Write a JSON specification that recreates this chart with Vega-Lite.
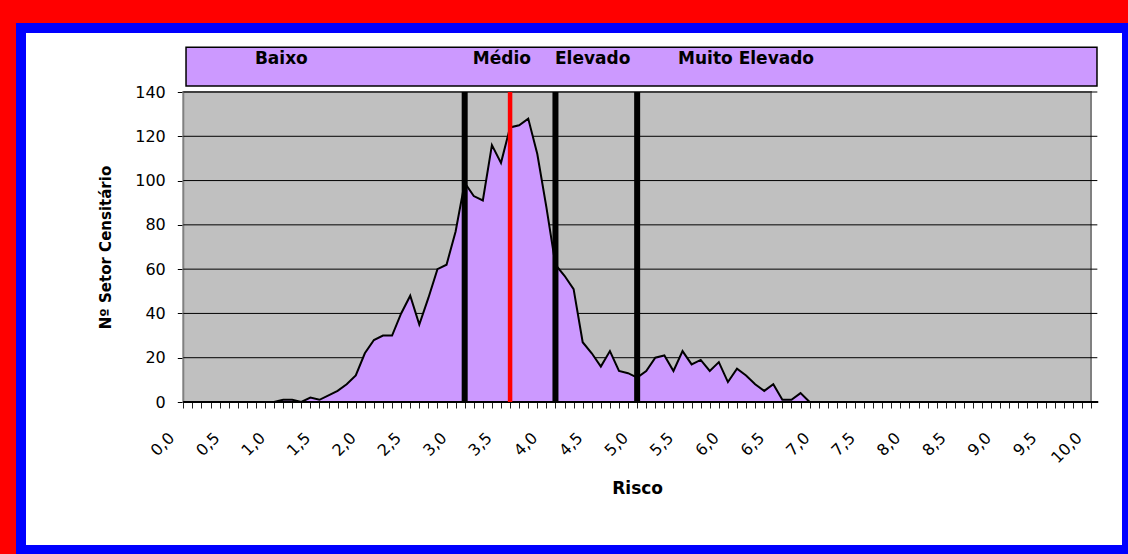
{
  "$schema": "https://vega.github.io/schema/vega-lite/v6.json",
  "autosize": {"type": "none"},
  "padding": {"left": 21, "top": 28, "right": 1, "bottom": 4},
  "width": 1106,
  "height": 522,
  "background": "#FF0000",
  "view": {"fill": "#FFFFFF", "stroke": "#0000FF", "strokeWidth": 10},
  "config": {
    "font": "DejaVu Sans",
    "axis": {"labelColor": "#000000", "titleColor": "#000000", "labelFont": "DejaVu Sans", "titleFont": "DejaVu Sans", "grid": false, "domain": false, "labelOverlap": false, "labelBound": false, "labelFlush": false},
    "axisX": {
      "tickCount": 100,
      "labelExpr": "abs(datum.value*2 - round(datum.value*2)) < 0.001 ? replace(format(datum.value, '.1f'), '.', ',') : ''",
      "offset": -153,
      "ticks": true,
      "tickSize": 11,
      "tickColor": "#222222",
      "tickWidth": 1,
      "labelAngle": -45,
      "labelAlign": "right",
      "labelBaseline": "middle",
      "labelPadding": 27,
      "labelOffset": -12,
      "labelFontSize": 16,
      "titleFontSize": 17,
      "titleFontWeight": "bold",
      "titlePadding": 15
    },
    "axisY": {
      "tickCount": 7,
      "offset": -162.3,
      "tickSize": 6,
      "tickColor": "#000000",
      "tickWidth": 1,
      "labelPadding": 12,
      "labelFontSize": 16,
      "titleFontSize": 15,
      "titleFontWeight": "bold",
      "titlePadding": 21
    }
  },
  "datasets": {
    "distribuicao": [
      {"risco": 0.0, "setores": 0}, {"risco": 0.1, "setores": 0}, {"risco": 0.2, "setores": 0}, {"risco": 0.3, "setores": 0}, {"risco": 0.4, "setores": 0},
      {"risco": 0.5, "setores": 0}, {"risco": 0.6, "setores": 0}, {"risco": 0.7, "setores": 0}, {"risco": 0.8, "setores": 0}, {"risco": 0.9, "setores": 0},
      {"risco": 1.0, "setores": 0}, {"risco": 1.1, "setores": 1}, {"risco": 1.2, "setores": 1}, {"risco": 1.3, "setores": 0}, {"risco": 1.4, "setores": 2},
      {"risco": 1.5, "setores": 1}, {"risco": 1.6, "setores": 3}, {"risco": 1.7, "setores": 5}, {"risco": 1.8, "setores": 8}, {"risco": 1.9, "setores": 12},
      {"risco": 2.0, "setores": 22}, {"risco": 2.1, "setores": 28}, {"risco": 2.2, "setores": 30}, {"risco": 2.3, "setores": 30}, {"risco": 2.4, "setores": 40},
      {"risco": 2.5, "setores": 48}, {"risco": 2.6, "setores": 35}, {"risco": 2.7, "setores": 47}, {"risco": 2.8, "setores": 60}, {"risco": 2.9, "setores": 62},
      {"risco": 3.0, "setores": 77}, {"risco": 3.1, "setores": 99}, {"risco": 3.2, "setores": 93}, {"risco": 3.3, "setores": 91}, {"risco": 3.4, "setores": 116},
      {"risco": 3.5, "setores": 108}, {"risco": 3.6, "setores": 124}, {"risco": 3.7, "setores": 125}, {"risco": 3.8, "setores": 128}, {"risco": 3.9, "setores": 112},
      {"risco": 4.0, "setores": 88}, {"risco": 4.1, "setores": 62}, {"risco": 4.2, "setores": 57}, {"risco": 4.3, "setores": 51}, {"risco": 4.4, "setores": 27},
      {"risco": 4.5, "setores": 22}, {"risco": 4.6, "setores": 16}, {"risco": 4.7, "setores": 23}, {"risco": 4.8, "setores": 14}, {"risco": 4.9, "setores": 13},
      {"risco": 5.0, "setores": 11}, {"risco": 5.1, "setores": 14}, {"risco": 5.2, "setores": 20}, {"risco": 5.3, "setores": 21}, {"risco": 5.4, "setores": 14},
      {"risco": 5.5, "setores": 23}, {"risco": 5.6, "setores": 17}, {"risco": 5.7, "setores": 19}, {"risco": 5.8, "setores": 14}, {"risco": 5.9, "setores": 18},
      {"risco": 6.0, "setores": 9}, {"risco": 6.1, "setores": 15}, {"risco": 6.2, "setores": 12}, {"risco": 6.3, "setores": 8}, {"risco": 6.4, "setores": 5},
      {"risco": 6.5, "setores": 8}, {"risco": 6.6, "setores": 1}, {"risco": 6.7, "setores": 1}, {"risco": 6.8, "setores": 4}, {"risco": 6.9, "setores": 0},
      {"risco": 7.0, "setores": 0}, {"risco": 7.1, "setores": 0}, {"risco": 7.2, "setores": 0}, {"risco": 7.3, "setores": 0}, {"risco": 7.4, "setores": 0},
      {"risco": 7.5, "setores": 0}, {"risco": 7.6, "setores": 0}, {"risco": 7.7, "setores": 0}, {"risco": 7.8, "setores": 0}, {"risco": 7.9, "setores": 0},
      {"risco": 8.0, "setores": 0}, {"risco": 8.1, "setores": 0}, {"risco": 8.2, "setores": 0}, {"risco": 8.3, "setores": 0}, {"risco": 8.4, "setores": 0},
      {"risco": 8.5, "setores": 0}, {"risco": 8.6, "setores": 0}, {"risco": 8.7, "setores": 0}, {"risco": 8.8, "setores": 0}, {"risco": 8.9, "setores": 0},
      {"risco": 9.0, "setores": 0}, {"risco": 9.1, "setores": 0}, {"risco": 9.2, "setores": 0}, {"risco": 9.3, "setores": 0}, {"risco": 9.4, "setores": 0},
      {"risco": 9.5, "setores": 0}, {"risco": 9.6, "setores": 0}, {"risco": 9.7, "setores": 0}, {"risco": 9.8, "setores": 0}, {"risco": 9.9, "setores": 0},
      {"risco": 10.0, "setores": 0}
    ],
    "grade": [{"nivel": 20}, {"nivel": 40}, {"nivel": 60}, {"nivel": 80}, {"nivel": 100}, {"nivel": 120}, {"nivel": 140}],
    "cortes": [{"corte": 3.1}, {"corte": 4.1}, {"corte": 5.0}],
    "media": [{"media": 3.6}],
    "classes": [
      {"classe": "Baixo", "pos": 1.08},
      {"classe": "Médio", "pos": 3.51},
      {"classe": "Elevado", "pos": 4.51},
      {"classe": "Muito Elevado", "pos": 6.2}
    ]
  },
  "layer": [
    {
      "data": {"values": [{}]},
      "mark": {"type": "rect", "fill": "#C0C0C0", "stroke": "#808080", "strokeWidth": 2},
      "encoding": {
        "x": {"datum": 0, "type": "quantitative", "scale": {"domain": [0, 10], "range": [162.3, 1070], "nice": false, "zero": false}},
        "x2": {"datum": 10},
        "y": {"datum": 0, "type": "quantitative", "scale": {"domain": [0, 140], "range": [374, 64], "nice": false, "zero": false}},
        "y2": {"datum": 140}
      }
    },
    {
      "data": {"name": "grade"},
      "mark": {"type": "rule", "color": "#000000", "strokeWidth": 1},
      "encoding": {
        "y": {"field": "nivel", "type": "quantitative"},
        "x": {"datum": 0, "type": "quantitative"},
        "x2": {"datum": 10.07}
      }
    },
    {
      "data": {"name": "distribuicao"},
      "mark": {"type": "area", "color": "#CC99FF", "opacity": 1, "fillOpacity": 1, "line": {"color": "#000000", "strokeWidth": 2}},
      "encoding": {
        "x": {"field": "risco", "type": "quantitative", "axis": {"title": "Risco"}},
        "y": {"field": "setores", "type": "quantitative", "axis": {"title": "Nº Setor Censitário"}}
      }
    },
    {
      "data": {"values": [{}]},
      "mark": {"type": "rule", "color": "#000000", "strokeWidth": 2},
      "encoding": {
        "y": {"datum": 0, "type": "quantitative"},
        "x": {"datum": 0, "type": "quantitative"},
        "x2": {"datum": 10.08}
      }
    },
    {
      "data": {"name": "cortes"},
      "mark": {"type": "rule", "color": "#000000", "strokeWidth": 6},
      "encoding": {
        "x": {"field": "corte", "type": "quantitative"},
        "y": {"datum": 0, "type": "quantitative"},
        "y2": {"datum": 140}
      }
    },
    {
      "data": {"name": "media"},
      "mark": {"type": "rule", "color": "#FF0000", "strokeWidth": 4.5},
      "encoding": {
        "x": {"field": "media", "type": "quantitative"},
        "y": {"datum": 0, "type": "quantitative"},
        "y2": {"datum": 140}
      }
    },
    {
      "data": {"values": [{}]},
      "mark": {"type": "rect", "fill": "#CC99FF", "stroke": "#000000", "strokeWidth": 1.5},
      "encoding": {
        "x": {"datum": 0.03, "type": "quantitative"},
        "x2": {"datum": 10.066},
        "y": {"datum": 160.2, "type": "quantitative"},
        "y2": {"datum": 142.7}
      }
    },
    {
      "data": {"name": "classes"},
      "mark": {"type": "text", "font": "DejaVu Sans", "fontSize": 17, "fontWeight": "bold", "color": "#000000", "align": "center", "baseline": "middle"},
      "encoding": {
        "x": {"field": "pos", "type": "quantitative"},
        "y": {"datum": 154.8, "type": "quantitative"},
        "text": {"field": "classe"}
      }
    }
  ]
}
